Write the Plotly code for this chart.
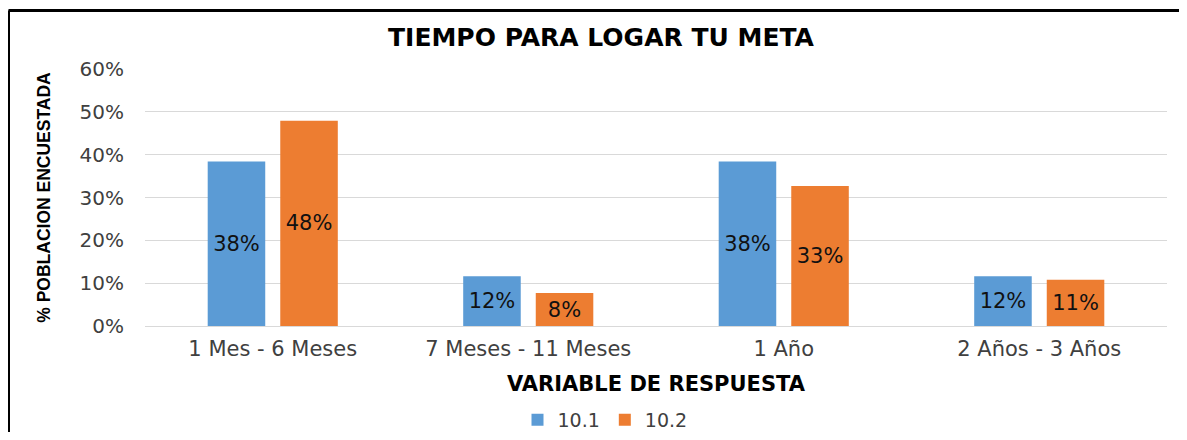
import plotly.graph_objects as go

categories = ["1 Mes - 6 Meses", "7 Meses - 11 Meses", "1 Año", "2 Años - 3 Años"]
series_names = ["10.1", "10.2"]
values_101 = [38.4, 11.6, 38.4, 11.6]
values_102 = [47.9, 7.7, 32.7, 10.8]
y_ticks = [0, 10, 20, 30, 40, 50, 60]
colors = ["#5B9BD5", "#ED7D31"]

FONT = "DejaVu Sans, Arial, sans-serif"

fig = go.Figure()
for name, vals, col in zip(series_names, [values_101, values_102], colors):
    fig.add_trace(go.Bar(
        x=categories, y=vals, name=name, marker=dict(color=col, line=dict(width=0)),
        texttemplate="%{y:.0f}%", textposition="inside", insidetextanchor="middle",
        textfont=dict(family=FONT, size=21, color="#111111"),
        textangle=0,
    ))

# page is rendered with an 8px body margin; size and margins compensate for it
W, H = 1171, 424
L, R, T, B = 137, 12, 61, 106
pw, ph = W - L - R, H - T - B

fig.update_layout(
    width=W, height=H,
    paper_bgcolor="white", plot_bgcolor="white",
    margin=dict(l=L, r=R, t=T, b=B, autoexpand=False),
    barmode="group", bargap=0.432, bargroupgap=0.207,
    title=dict(text="<b>TIEMPO PARA LOGAR TU META</b>", x=593 / W, xanchor="center",
               y=1 - 29 / H, yanchor="middle", yref="container", xref="container",
               font=dict(family=FONT, size=25, color="#000000")),
    font=dict(family=FONT, color="#404040"),
    legend=dict(orientation="h", x=597 / W, xanchor="center", xref="container",
                y=1 - 412 / H, yanchor="middle", yref="container",
                font=dict(size=19, color="#404040"), itemwidth=30, traceorder="normal"),
    uniformtext=dict(minsize=10, mode="show"),
)
fig.update_yaxes(
    range=[0, 60], tickvals=y_ticks, ticktext=[f"{v}%" for v in y_ticks],
    showgrid=True, gridcolor="#D9D9D9", gridwidth=1, zeroline=False,
    showline=False, tickfont=dict(size=20, color="#404040"), ticks="", ticklabelstandoff=20,
    automargin=False,
    title=dict(text="<b>% POBLACION ENCUESTADA</b>", standoff=24,
               font=dict(family="Liberation Sans Narrow, Arial Narrow, Arial", size=17.5, color="#000000")),
)
fig.update_xaxes(
    showline=True, linecolor="#D9D9D9", linewidth=1, ticks="", automargin=False,
    tickfont=dict(size=21, color="#404040"), ticklabelstandoff=4,
    title=dict(text="<b>VARIABLE DE RESPUESTA</b>", standoff=16,
               font=dict(family=FONT, size=21, color="#000000")),
)
# outer chart frame (partially cropped in reference: only left and top edges visible)
top_y = (H - B - 2.5) / ph
left_x = (0.5 - L) / pw
right_x = (W - L) / pw
fig.add_shape(type="line", xref="paper", yref="paper", x0=left_x, x1=right_x, y0=top_y, y1=top_y,
              line=dict(color="black", width=3))
fig.add_shape(type="line", xref="paper", yref="paper", x0=left_x, x1=left_x, y0=top_y, y1=-0.6,
              line=dict(color="black", width=3))

fig.write_html("out.html")
